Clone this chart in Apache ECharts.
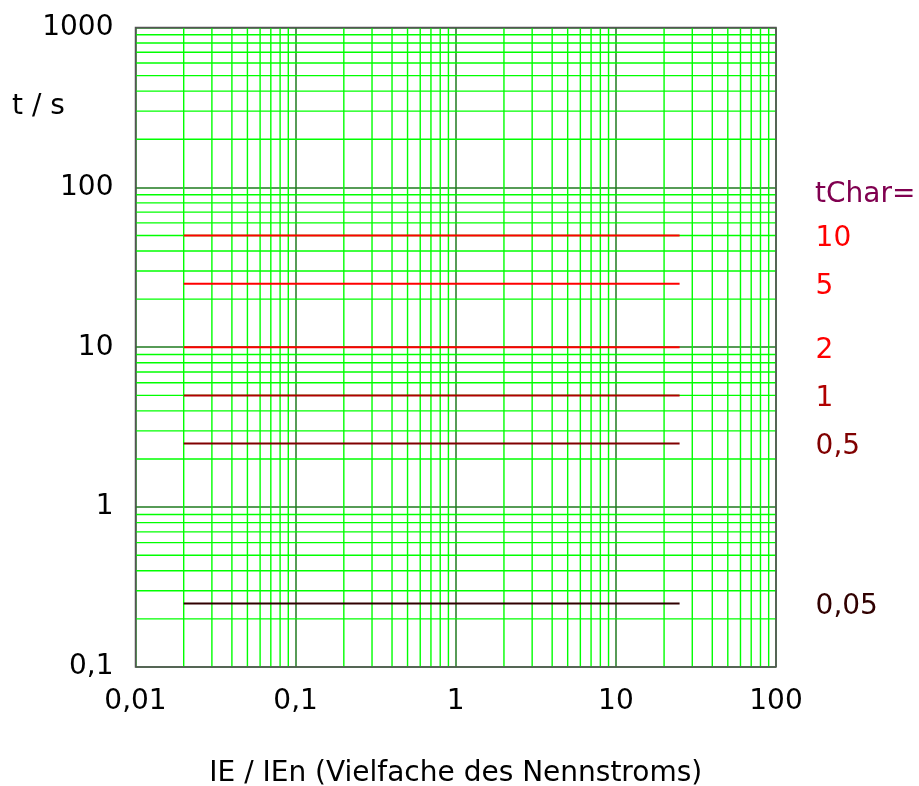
<!DOCTYPE html>
<html><head><meta charset="utf-8">
<script src="https://cdn.jsdelivr.net/npm/echarts@6/dist/echarts.min.js"></script>
<style>html,body{margin:0;padding:0;background:#fff}#c{width:919px;height:786px}</style>
</head><body><div id="c"></div>
<script>
// Data
const tCharLabels = ['10', '5', '2', '1', '0,5', '0,05'];
const tValues = [50, 25, 10, 5, 2.5, 0.25];
const xStart = 0.02;
const xEnd = 25;
const lineColors = ['#ff0000', '#ff0000', '#ff0000', '#b00000', '#800000', '#300000'];
const xDecades = [0.01, 0.1, 1, 10];
const yDecades = [0.1, 1, 10, 100];
const minorMult = [2, 3, 4, 5, 6, 7, 8, 9];
const xMin = 0.01, xMax = 100, yMin = 0.1, yMax = 1000;

const FONT = 'DejaVu Sans';
const FS = 28;
const fmt = v => String(v).replace('.', ',');

const series = [];
const gridStyle = { color: '#00ff00', width: 1.4, type: 'solid' };
xDecades.forEach(d => minorMult.forEach(m => {
  const v = +(d * m).toPrecision(3);
  series.push({ type: 'line', z: 1, silent: true, symbol: 'none', animation: false,
    lineStyle: gridStyle, data: [[v, yMin], [v, yMax]] });
}));
yDecades.forEach(d => minorMult.forEach(m => {
  const v = +(d * m).toPrecision(3);
  series.push({ type: 'line', z: 1, silent: true, symbol: 'none', animation: false,
    lineStyle: gridStyle, data: [[xMin, v], [xMax, v]] });
}));
tValues.forEach((t, i) => {
  series.push({
    type: 'line', z: 5, symbol: 'none', showSymbol: false, animation: false,
    lineStyle: { color: lineColors[i], width: 2 },
    endLabel: { show: true, formatter: tCharLabels[i], offset: [128, 3],
      color: lineColors[i], fontFamily: FONT, fontSize: FS },
    data: [[xStart, t], [xEnd, t]]
  });
});

const chart = echarts.init(document.getElementById('c'), null, { renderer: 'canvas' });
chart.setOption({
  animation: false,
  backgroundColor: '#fff',
  grid: { left: 135.5, right: 143, top: 27.5, bottom: 119, containLabel: false, outerBoundsMode: 'none',
    show: true, borderColor: '#555', borderWidth: 1.5, backgroundColor: 'transparent', z: 10 },
  xAxis: {
    type: 'log', logBase: 10, min: xMin, max: xMax,
    name: 'IE / IEn (Vielfache des Nennstroms)', nameLocation: 'middle', nameGap: 93,
    nameTextStyle: { fontFamily: FONT, fontSize: FS, color: '#000' },
    axisLine: { show: false }, axisTick: { show: false },
    axisLabel: { formatter: fmt, fontFamily: FONT, fontSize: FS, color: '#000', margin: 21 },
    splitLine: { show: true, lineStyle: { color: '#1f7a1f', width: 1.5 } }
  },
  yAxis: {
    type: 'log', logBase: 10, min: yMin, max: yMax,
    axisLine: { show: false }, axisTick: { show: false },
    axisLabel: { formatter: fmt, fontFamily: FONT, fontSize: FS, color: '#000', margin: 22 },
    splitLine: { show: true, lineStyle: { color: '#1f7a1f', width: 1.5 } }
  },
  graphic: [
    { type: 'text', left: 12, top: 93, style: { text: 't / s', font: FS + 'px "DejaVu Sans"', fill: '#000' } },
    { type: 'text', left: 815, top: 181, style: { text: 'tChar=', font: FS + 'px "DejaVu Sans"', fill: '#800050' } }
  ],
  series: series
});
</script></body></html>
